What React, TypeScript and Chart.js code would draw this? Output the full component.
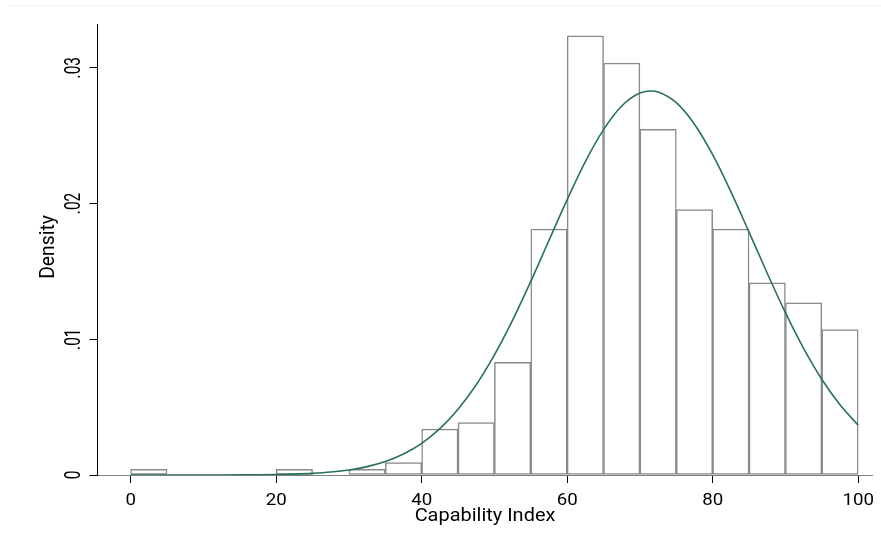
import React, { useEffect, useRef } from "react";
import { Chart, registerables } from "chart.js";

Chart.register(...registerables);

// Histogram bins (width 5) – centers and density heights
const binCenters = [2.5, 7.5, 12.5, 17.5, 22.5, 27.5, 32.5, 37.5, 42.5, 47.5, 52.5, 57.5, 62.5, 67.5, 72.5, 77.5, 82.5, 87.5, 92.5, 97.5];
const binDensity = [0.00042, 0, 0, 0, 0.00042, 0, 0.00042, 0.00091, 0.00338, 0.00386, 0.00829, 0.01811, 0.03235, 0.03034, 0.02547, 0.01955, 0.01811, 0.01415, 0.01268, 0.01071];

// Normal density overlay
const curveX = [0, 2.5, 5, 7.5, 10, 12.5, 15, 17.5, 20, 22.5, 25, 27.5, 30, 32.5, 35, 37.5, 40, 42.5, 45, 47.5, 50, 52.5, 55, 57.5, 60, 62.5, 65, 67.5, 70, 71.5, 72.5, 75, 77.5, 80, 82.5, 85, 87.5, 90, 92.5, 95, 97.5, 100];
const curveDensity = [0.0000001, 0.0000002, 0.0000004, 0.000001, 0.000002, 0.0000045, 0.0000092, 0.0000185, 0.000036, 0.000068, 0.000123, 0.000217, 0.000372, 0.000617, 0.000992, 0.001546, 0.002334, 0.003413, 0.004838, 0.006646, 0.008846, 0.011413, 0.014264, 0.01728, 0.02028, 0.02308, 0.02544, 0.02718, 0.02813, 0.02829, 0.02822, 0.02743, 0.02584, 0.02359, 0.02087, 0.01789, 0.01486, 0.01196, 0.00933, 0.007056, 0.005169, 0.003669];

const xTickValues = [0, 20, 40, 60, 80, 100];
const xTickLabels = ["0", "20", "40", "60", "80", "100"];
const yTickValues = [0, 0.01, 0.02, 0.03];
const yTickLabels = ["0", ".01", ".02", ".03"];
const xTitle = "Capability Index";
const yTitle = "Density";

const FONT = "Roboto, 'Liberation Sans', 'DejaVu Sans', sans-serif";

const textPlugin = {
  id: "stataText",
  afterDraw(chart: any) {
    const ctx: CanvasRenderingContext2D = chart.ctx;
    const xs = chart.scales.x;
    const ys = chart.scales.y;
    const area = chart.chartArea;
    ctx.save();
    // faint outer frame line at the top of the graph region
    ctx.strokeStyle = "#f1f1f1";
    ctx.lineWidth = 1;
    ctx.beginPath();
    ctx.moveTo(10, 5.5);
    ctx.lineTo(881, 5.5);
    ctx.stroke();

    ctx.fillStyle = "#000";
    ctx.textBaseline = "alphabetic";
    ctx.textAlign = "center";

    // x tick labels
    ctx.font = `17px ${FONT}`;
    xTickValues.forEach((v, i) => {
      const px = xs.getPixelForValue(v);
      ctx.save();
      ctx.translate(px, area.bottom + 29.5);
      ctx.scale(1.1, 1);
      ctx.fillText(xTickLabels[i], 0, 0);
      ctx.restore();
    });

    // x title
    ctx.font = `19px ${FONT}`;
    ctx.save();
    ctx.translate((area.left + area.right) / 2, area.bottom + 45.5);
    ctx.scale(1.05, 1);
    ctx.fillText(xTitle, 0, 0);
    ctx.restore();

    // y tick labels (rotated, condensed)
    ctx.font = `22px ${FONT}`;
    yTickValues.forEach((v, i) => {
      const py = ys.getPixelForValue(v);
      ctx.save();
      ctx.translate(area.left - 17.5, py);
      ctx.rotate(-Math.PI / 2);
      ctx.scale(0.7, 1);
      ctx.fillText(yTickLabels[i], 0, 0);
      ctx.restore();
    });

    // y title
    ctx.font = `21px ${FONT}`;
    ctx.save();
    ctx.translate(area.left - 44, (area.top + area.bottom) / 2 - 2.5);
    ctx.rotate(-Math.PI / 2);
    ctx.scale(0.92, 1);
    ctx.fillText(yTitle, 0, 0);
    ctx.restore();

    ctx.restore();
  },
};

export default function App() {
  const ref = useRef<HTMLCanvasElement>(null);

  useEffect(() => {
    if (!ref.current) return;
    const chart = new Chart(ref.current, {
      type: "bar",
      data: {
        datasets: [
          {
            type: "line",
            data: curveX.map((x, i) => ({ x, y: curveDensity[i] })),
            borderColor: "#2a7062",
            borderWidth: 1.6,
            pointRadius: 0,
            fill: false,
            cubicInterpolationMode: "monotone",
            order: 1,
          } as any,
          {
            type: "bar",
            data: binCenters.map((x, i) => ({ x, y: binDensity[i] })),
            backgroundColor: "#ffffff",
            borderColor: "#8a8a8a",
            borderWidth: 1.5,
            borderSkipped: false,
            barPercentage: 1,
            categoryPercentage: 1,
            order: 2,
          } as any,
        ],
      },
      options: {
        animation: false,
        responsive: false,
        maintainAspectRatio: false,
        devicePixelRatio: 1,
        layout: { padding: { left: 89.5, right: 8.5, top: 24, bottom: 59 } },
        plugins: { legend: { display: false }, tooltip: { enabled: false } },
        scales: {
          x: {
            type: "linear",
            min: -4.56,
            max: 101.97,
            offset: false,
            grid: { display: true, drawOnChartArea: false, drawTicks: true, tickLength: 8, color: "#000", offset: false },
            border: { display: true, color: "#7f7f7f", width: 1 },
            ticks: { display: false },
            afterBuildTicks: (s: any) => {
              s.ticks = xTickValues.map((v) => ({ value: v }));
            },
          },
          y: {
            type: "linear",
            min: 0,
            max: 0.03322,
            grid: { display: true, drawOnChartArea: false, drawTicks: true, tickLength: 8, color: "#000" },
            border: { display: true, color: "#000", width: 1 },
            ticks: { display: false },
            afterBuildTicks: (s: any) => {
              s.ticks = yTickValues.map((v) => ({ value: v }));
            },
          },
        },
      } as any,
      plugins: [textPlugin],
    });
    return () => chart.destroy();
  }, []);

  return (
    <div style={{ position: "absolute", left: 0, top: 0, width: 881, height: 542, background: "#fff" }}>
      <canvas ref={ref} width={881} height={542} style={{ display: "block", width: 881, height: 542 }} />
    </div>
  );
}
